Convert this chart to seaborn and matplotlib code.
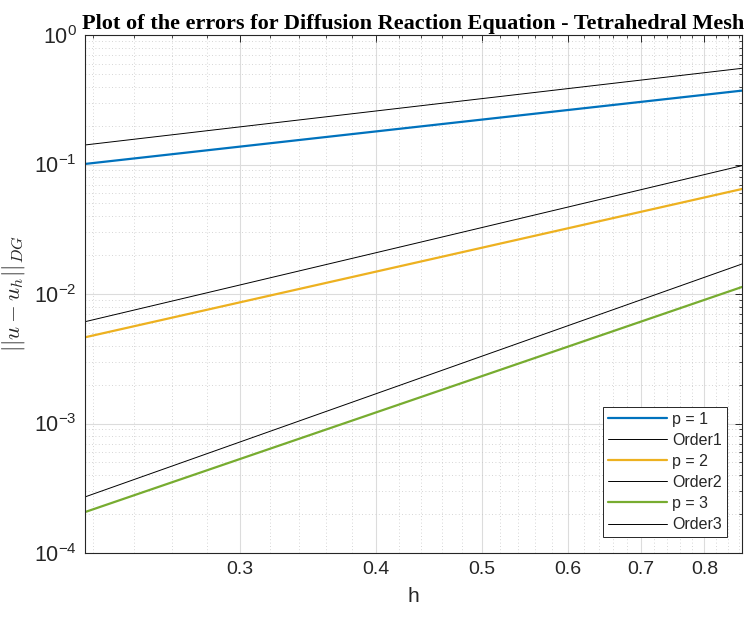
import matplotlib
matplotlib.use("Agg")
import matplotlib.pyplot as plt
import matplotlib.ticker as mticker
import seaborn as sns
import numpy as np
import pandas as pd

# mesh sizes and errors
h = [0.2165, 0.433, 0.866]
err_p1 = [0.101, 0.194, 0.372]
err_p2 = [0.00463, 0.0173, 0.0647]
err_p3 = [2.07e-4, 1.53e-3, 0.01133]
order1 = [0.1415, 0.280, 0.553]
order2 = [0.00611, 0.0244, 0.098]
order3 = [2.71e-4, 2.15e-3, 0.01705]

series = [
    ("p = 1", err_p1, "#0072BD", 1.6),
    ("Order1", order1, "black", 0.7),
    ("p = 2", err_p2, "#EDB120", 1.6),
    ("Order2", order2, "black", 0.7),
    ("p = 3", err_p3, "#77AC30", 1.6),
    ("Order3", order3, "black", 0.7),
]

sns.set_theme(style="white")
plt.rcParams["font.family"] = ["Liberation Sans", "DejaVu Sans"]
plt.rcParams["mathtext.fontset"] = "cm"

fig = plt.figure(figsize=(7.45, 6.17), dpi=100)
ax = fig.add_axes([85 / 745, 64 / 617, 657 / 745, 518 / 617])

for name, vals, col, lw in series:
    df = pd.DataFrame({"h": h, "err": vals})
    sns.lineplot(data=df, x="h", y="err", ax=ax, color=col, linewidth=lw, label=name)

ax.set_xscale("log")
ax.set_yscale("log")
ax.set_xlim(0.2165, 0.866)
ax.set_ylim(1e-4, 1)

ax.xaxis.set_major_locator(mticker.FixedLocator([0.3, 0.4, 0.5, 0.6, 0.7, 0.8]))
ax.xaxis.set_major_formatter(mticker.FormatStrFormatter("%.1f"))
minor_x = [round(v, 2) for v in np.arange(0.22, 0.87, 0.02) if round(v, 2) not in (0.3, 0.4, 0.5, 0.6, 0.7, 0.8)]
ax.xaxis.set_minor_locator(mticker.FixedLocator(minor_x))
ax.xaxis.set_minor_formatter(mticker.NullFormatter())
ax.yaxis.set_major_locator(mticker.LogLocator(base=10, numticks=10))
ax.yaxis.set_minor_locator(mticker.LogLocator(base=10, subs=np.arange(2, 10), numticks=20))
ax.yaxis.set_minor_formatter(mticker.NullFormatter())

ax.grid(True, which="major", color="#dcdcdc", linewidth=0.8, linestyle="-")
ax.grid(True, which="minor", color="#c8c8c8", linewidth=0.6, linestyle=(0, (1, 3)))
ax.set_axisbelow(True)

ax.tick_params(which="both", direction="in", top=True, right=True, colors="#262626",
               labelcolor="#262626")
ax.tick_params(axis="x", which="major", labelsize=14)
ax.tick_params(axis="y", which="major", labelsize=15.5)
ax.tick_params(which="major", length=5, width=0.7, pad=6)
ax.tick_params(which="minor", length=2.5, width=0.6)
for sp in ax.spines.values():
    sp.set_color("#262626")
    sp.set_linewidth(0.8)

ax.set_xlabel("h", fontsize=15, color="#262626", labelpad=6)
ax.set_ylabel(r"$||u-u_h||_{DG}$", fontsize=16.5, color="#262626", labelpad=5)
ax.set_title("Plot of the errors for Diffusion Reaction Equation - Tetrahedral Mesh",
             fontsize=16, fontweight="bold", family="Liberation Serif", color="black", pad=4)

leg = ax.legend(loc="lower right", bbox_to_anchor=(0.977, 0.031), fontsize=11.5,
                frameon=True, fancybox=False, framealpha=1, edgecolor="#262626",
                handlelength=3.7, handletextpad=0.35, borderpad=0.3,
                labelspacing=0.38, borderaxespad=0)
leg.get_frame().set_linewidth(0.7)

fig.savefig("out.png", dpi=100)
